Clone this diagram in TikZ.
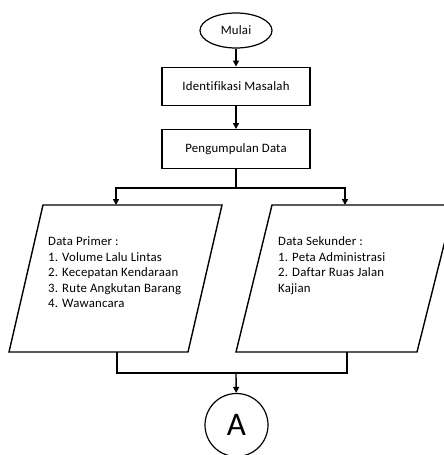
\documentclass[tikz,border=0pt]{standalone}
\usepackage{fontspec}
\setmainfont{Carlito}[Ligatures=NoCommon,LetterSpace=1.5]
\newfontfamily\bigfont{Carlito}
\usetikzlibrary{shapes.geometric,arrows.meta}
\begin{document}
\begin{tikzpicture}[x=1pt,y=-1pt,
  line/.style={line width=1.4pt,black},
  arr/.style={line,-{Triangle[length=6pt,width=6pt]}},
  box/.style={draw,line width=1.4pt,minimum width=148pt,minimum height=38.5pt,inner sep=0pt,font=\fontsize{12.8}{15}\selectfont},
  term/.style={draw,ellipse,line width=1.2pt,minimum width=72pt,minimum height=35pt,inner sep=0pt,font=\fontsize{12.8}{15}\selectfont},
  conn/.style={draw,circle,line width=1.2pt,minimum size=63pt,inner sep=0pt,font=\bigfont\fontsize{33}{36}\selectfont},
  io/.style={line},
  iotext/.style={anchor=north west,align=left,inner sep=0pt,font=\fontsize{12.8}{15.6}\selectfont}]
\useasboundingbox (0,0) rectangle (444,455);
% nodes
\node[term] (mulai) at (236,30.5) {Mulai};
\node[box] (ident) at (236,86.5) {Identifikasi Masalah};
\node[box] (kumpul) at (236,149) {Pengumpulan Data};
% parallelograms
\draw[io] (43,205) -- (222,205) -- (188,352) -- (9,352) -- cycle;
\draw[io] (272,205) -- (454,205) -- (417,352) -- (236,352) -- cycle;
\coordinate (p1top) at (116,205);
\coordinate (p1bot) at (117,352);
\coordinate (p2top) at (345,205);
\coordinate (p2bot) at (347,352);
\node[iotext] (primer) at (48,236.5) {Data Primer :\\1. Volume Lalu Lintas\\2. Kecepatan Kendaraan\\3. Rute Angkutan Barang\\4. Wawancara};
\node[iotext] (sekunder) at (278,236.5) {Data Sekunder :\\1. Peta Administrasi\\2. Daftar Ruas Jalan\\Kajian};
\node[conn] (A) at (236.5,425) {A};
% connectors
\coordinate (split) at (236,188);
\coordinate (join) at (236,373);
\draw[arr] (mulai) -- (ident);
\draw[arr] (ident) -- (kumpul);
\draw[line] (kumpul) -- (split);
\draw[arr] (split) -| (p1top);
\draw[arr] (split) -| (p2top);
\draw[line] (p1bot) |- (join);
\draw[line] (p2bot) |- (join);
\draw[arr] (join) -- (A);
\end{tikzpicture}
\end{document}
